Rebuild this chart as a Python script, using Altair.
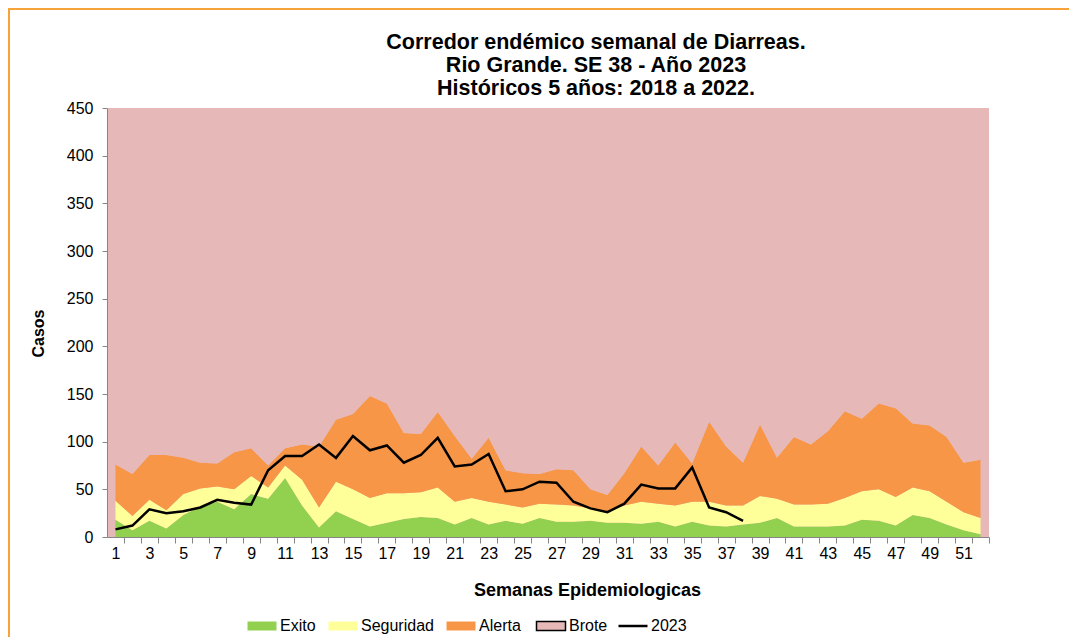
import altair as alt
import pandas as pd

weeks = list(range(1, 53))
exito = [18, 7, 17, 9, 23, 32, 37, 29, 45, 40, 62, 33, 10, 27, 19, 11, 15, 19, 21, 20,
         13, 20, 13, 17, 14, 20, 16, 16, 17, 15, 15, 14, 16, 11, 16, 12, 11, 13, 15, 20,
         11, 11, 11, 12, 18, 17, 12, 23, 20, 13, 7, 3]
seguridad = [38, 22, 39, 28, 45, 51, 53, 50, 64, 52, 75, 60, 31, 58, 50, 41, 46, 46, 47, 52,
             37, 41, 37, 34, 31, 35, 34, 33, 30, 27, 33, 37, 35, 33, 37, 37, 33, 33, 43, 40,
             34, 34, 35, 41, 48, 50, 42, 52, 48, 37, 26, 20]
alerta = [76, 66, 86, 86, 83, 78, 77, 89, 93, 75, 93, 97, 95, 123, 129, 148, 140, 109, 108, 131,
          106, 82, 104, 70, 67, 66, 71, 70, 50, 44, 67, 95, 75, 99, 77, 121, 95, 78, 118, 83,
          105, 97, 111, 132, 124, 140, 135, 119, 117, 105, 78, 81]
casos_2023 = [8, 12, 29, 25, 27, 31, 39, 36, 34, 70, 85, 85, 97, 83, 106, 91, 96, 78, 86, 104,
              74, 76, 87, 48, 50, 58, 57, 37, 30, 26, 35, 55, 51, 51, 73, 31, 26, 17]
techo = 450
y_ticks = list(range(0, 451, 50))

band_series = ["Exito", "Seguridad", "Alerta", "Brote"]
band_colors = ["#92D050", "#FFFF99", "#F79646", "#E6B9B8"]
line_series = ["2023"]
line_colors = ["#000000"]

rows = []
for i, w in enumerate(weeks):
    rows.append({"semana": w, "serie": "Exito", "y0": 0, "y1": exito[i]})
    rows.append({"semana": w, "serie": "Seguridad", "y0": exito[i], "y1": seguridad[i]})
    rows.append({"semana": w, "serie": "Alerta", "y0": seguridad[i], "y1": alerta[i]})
    rows.append({"semana": w, "serie": "Brote", "y0": alerta[i], "y1": techo})
bands = pd.DataFrame(rows)
linea = pd.DataFrame({"semana": weeks[:len(casos_2023)], "casos": casos_2023, "serie": "2023"})

W, H = 882, 429
half = W / 52 / 2
FONT = "Liberation Sans"

x_scale = alt.Scale(domain=[0.5, 52.5], nice=False, zero=False)
x_axis = alt.Axis(
    values=weeks, tickOffset=half, labelOffset=-half,
    labelExpr="datum.value % 2 == 1 ? datum.label : ''",
    grid=False, domainColor="#868686", tickColor="#868686", tickSize=6,
    labelPadding=2, labelFont=FONT, labelFontSize=16, labelColor="#000000",
    labelAngle=0, labelOverlap=False, labelFlush=False, labelBound=False,
    title="Semanas Epidemiologicas", titleFont=FONT, titleFontSize=18,
    titleFontWeight="bold", titleColor="#000000", titleX=480, titleAlign="center",
    titlePadding=20,
)
y_scale = alt.Scale(domain=[0, 450], nice=False)
y_axis = alt.Axis(
    values=y_ticks, grid=False, domainColor="#868686", tickColor="#868686", tickSize=5,
    labelPadding=9, labelFont=FONT, labelFontSize=16, labelColor="#000000",
    labelOverlap=False,
    title="Casos", titleFont=FONT, titleFontSize=16, titleFontWeight="bold",
    titleColor="#000000", titleX=-69, titleY=225, titleAlign="center", titleBaseline="middle",
    titleAngle=270,
)

fill_legend = alt.Legend(
    orient="none", legendX=147, legendY=510, direction="horizontal", title=None,
    labelFont=FONT, labelFontSize=16, labelColor="#000000", labelOffset=10,
    columnPadding=12, symbolSize=841, symbolOpacity=1,
    symbolType="M-1,-0.31H1V0.31H-1Z",
    symbolStrokeColor={"expr": "datum.value === 'Brote' ? '#000000' : 'transparent'"},
    symbolStrokeWidth={"expr": "datum.value === 'Brote' ? 1.5 : 0"},
)
stroke_legend = alt.Legend(
    orient="none", legendX=510, legendY=502, direction="horizontal", title=None,
    labelFont=FONT, labelFontSize=16, labelColor="#000000", labelOffset=2,
    symbolSize=841, symbolOpacity=1, symbolType="M-1,0H1", symbolStrokeWidth=2.5,
)

areas = alt.Chart(bands).mark_area(interpolate="linear", opacity=1).encode(
    x=alt.X("semana:Q", scale=x_scale, axis=x_axis),
    y=alt.Y("y0:Q", scale=y_scale, axis=y_axis),
    y2="y1:Q",
    fill=alt.Fill("serie:N", scale=alt.Scale(domain=band_series, range=band_colors),
                  legend=fill_legend),
)
line = alt.Chart(linea).mark_line(strokeWidth=2.5, interpolate="linear").encode(
    x=alt.X("semana:Q", scale=x_scale, axis=x_axis),
    y=alt.Y("casos:Q", scale=y_scale, axis=y_axis),
    stroke=alt.Stroke("serie:N", scale=alt.Scale(domain=line_series, range=line_colors),
                      legend=stroke_legend),
)

# decorative orange frame of the original figure (top and left edges)
frame_src = pd.DataFrame({"k": [0]})
frame_top = alt.Chart(frame_src).mark_rule(color="#F7A33A", strokeWidth=2, clip=False).encode(
    x=alt.value(-99), x2=alt.value(W + 80), y=alt.value(-99)
)
frame_left = alt.Chart(frame_src).mark_rule(color="#F7A33A", strokeWidth=2, clip=False).encode(
    x=alt.value(-98), y=alt.value(-100), y2=alt.value(H + 100)
)

chart = alt.layer(areas, line, frame_top, frame_left).properties(
    width=W, height=H,
    autosize=alt.AutoSizeParams(type="none"),
    padding={"left": 99, "top": 100, "right": 80, "bottom": 100},
    background="#FFFFFF",
    title=alt.Title(
        ["Corredor endémico semanal de Diarreas.", "Rio Grande. SE 38 - Año 2023",
         "Históricos 5 años: 2018 a 2022."],
        font=FONT, fontSize=21.5, fontWeight="bold", color="#000000", lineHeight=23,
        anchor="middle", frame="group", dx=48, dy=100, offset=8,
    ),
).resolve_scale(color="independent").configure_view(fill="#E6B9B8", strokeWidth=0)

chart.save("out.html", embed_options={"renderer": "svg", "actions": False})
